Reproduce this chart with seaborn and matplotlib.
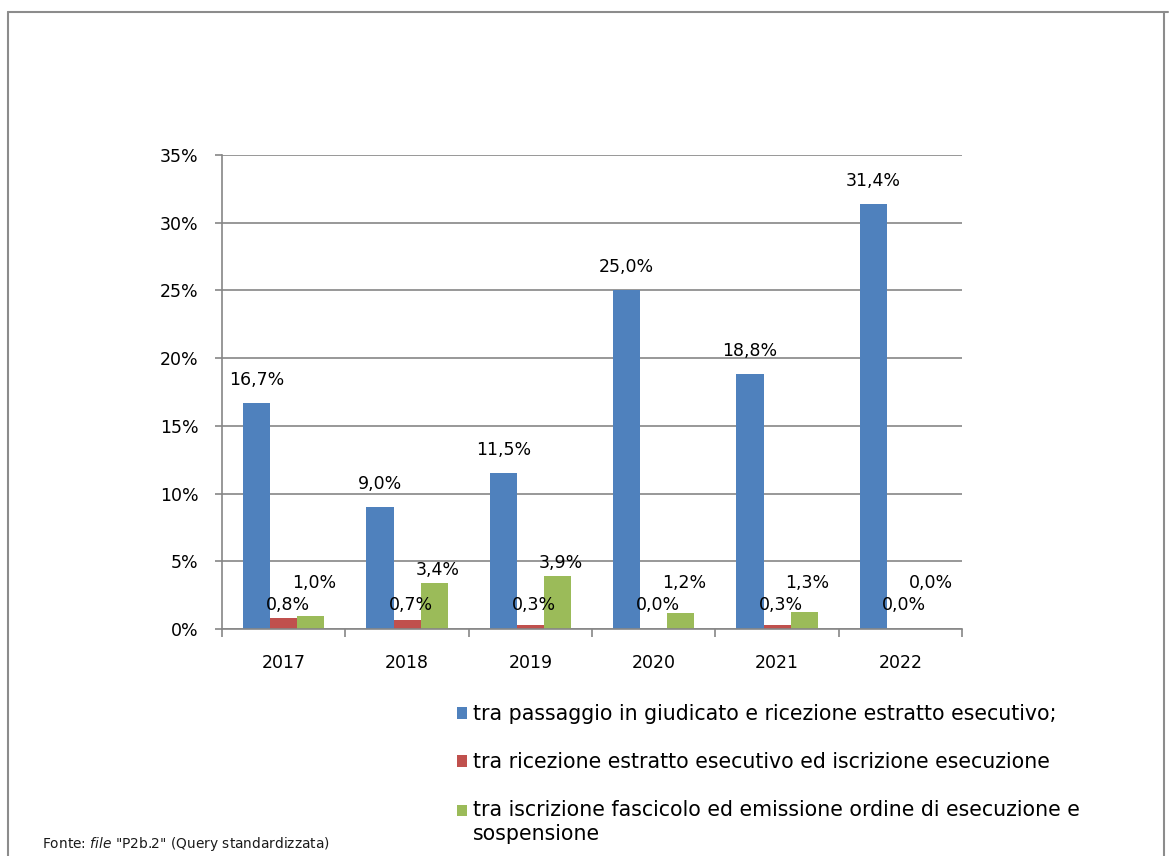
import matplotlib
matplotlib.use("Agg")
import matplotlib.pyplot as plt
import seaborn as sns
import pandas as pd
import numpy as np
from matplotlib.patches import Rectangle
from matplotlib.legend_handler import HandlerPatch
from matplotlib.lines import Line2D

years = ["2017", "2018", "2019", "2020", "2021", "2022"]
series_names = [
    "tra passaggio in giudicato e ricezione estratto esecutivo;",
    "tra ricezione estratto esecutivo ed iscrizione esecuzione",
    "tra iscrizione fascicolo ed emissione ordine di esecuzione e\nsospensione",
]
blue_vals = [16.7, 9.0, 11.5, 25.0, 18.8, 31.4]
red_vals = [0.8, 0.7, 0.3, 0.0, 0.3, 0.0]
green_vals = [1.0, 3.4, 3.9, 1.2, 1.3, 0.0]
colors = ["#4F81BD", "#C0504D", "#9BBB59"]
y_ticks = [0, 5, 10, 15, 20, 25, 30, 35]

sns.set_theme(style="white")
plt.rcParams["font.family"] = ["DejaVu Sans"]

rows = []
for name, vals in zip(series_names, [blue_vals, red_vals, green_vals]):
    for y, v in zip(years, vals):
        rows.append({"anno": y, "serie": name, "valore": v})
df = pd.DataFrame(rows)

fig = plt.figure(figsize=(11.69, 8.56), dpi=100)
ax = fig.add_axes([0.190, 0.265, 0.633, 0.554])

sns.barplot(data=df, x="anno", y="valore", hue="serie", hue_order=series_names,
            palette=colors, width=0.66, gap=0, ax=ax, legend=False,
            saturation=1, edgecolor="none", errorbar=None)

ax.set_ylim(0, 35)
ax.set_yticks(y_ticks)
ax.set_yticklabels([f"{t}%" for t in y_ticks], fontsize=12.5)
ax.set_xlim(-0.5, len(years) - 0.5)
ax.set_xticks(range(len(years)))
ax.set_xticklabels(years, fontsize=12.5)
ax.set_xlabel("")
ax.set_ylabel("")
ax.yaxis.grid(True, color="#868686", linewidth=1.2)
ax.set_axisbelow(True)
for s in ["top", "right"]:
    ax.spines[s].set_visible(False)
for s in ["left", "bottom"]:
    ax.spines[s].set_color("#868686")
    ax.spines[s].set_linewidth(1.2)
ax.tick_params(axis="y", left=True, length=5, color="#868686", width=1.2, pad=12, labelcolor="black")
ax.tick_params(axis="x", bottom=False, pad=12, labelcolor="black")
ax.set_xticks(np.arange(-0.5, len(years), 1.0), minor=True)
ax.tick_params(axis="x", which="minor", bottom=True, length=6, color="#868686", width=1.2)

# data labels
bw = 0.22
offsets = [-bw, 0, bw]
for i, (vals, off) in enumerate(zip([blue_vals, red_vals, green_vals], offsets)):
    for j, v in enumerate(vals):
        if i == 0:
            ypos, dy, dx = v, 23, 0
        elif i == 1:
            ypos, dy, dx = 1.8, 0, 4
        else:
            ypos = max(v + 0.95, 3.4)
            dy, dx = 0, 3
        ax.annotate(f"{v:.1f}%".replace(".", ","), xy=(j + off, ypos),
                    xytext=(dx, dy), textcoords="offset pixels",
                    ha="center", va="center", fontsize=12.5, color="black")

# legend
class TopHandler(HandlerPatch):
    def __init__(self, shift=0, **kw):
        super().__init__(**kw)
        self.shift = shift

    def create_artists(self, legend, orig_handle, xdescent, ydescent, width,
                       height, fontsize, trans):
        p = Rectangle((-xdescent, -ydescent + self.shift), width, height,
                      facecolor=orig_handle.get_facecolor(), edgecolor="none",
                      transform=trans)
        return [p]

handles = [Rectangle((0, 0), 1, 1, facecolor=c) for c in colors]
hmap = {handles[0]: TopHandler(0), handles[1]: TopHandler(0), handles[2]: TopHandler(8.7)}
leg = fig.legend(handles, series_names, handler_map=hmap, loc="upper left",
                 bbox_to_anchor=(0.391, 0.177), frameon=False, fontsize=14.8,
                 handlelength=0.48, handleheight=0.48, handletextpad=0.3,
                 labelspacing=1.36, borderpad=0, borderaxespad=0)
for t in leg.get_texts():
    t.set_color("black")

fig.text(0.036, 0.004, r'Fonte: $\mathit{file}$ "P2b.2" (Query standardizzata)',
         fontsize=9.9, color="#1a1a1a", ha="left", va="bottom")

# outer frame
fig.add_artist(Line2D([0.0068, 0.0068], [0.0, 0.986], transform=fig.transFigure,
                      color="#8c8c8c", linewidth=1.5))
fig.add_artist(Line2D([0.0068, 0.9995], [0.986, 0.986], transform=fig.transFigure,
                      color="#8c8c8c", linewidth=1.5))
fig.add_artist(Line2D([0.9955, 0.9955], [0.0, 0.986], transform=fig.transFigure,
                      color="#8c8c8c", linewidth=1.5))

fig.savefig("out.png", dpi=100)
